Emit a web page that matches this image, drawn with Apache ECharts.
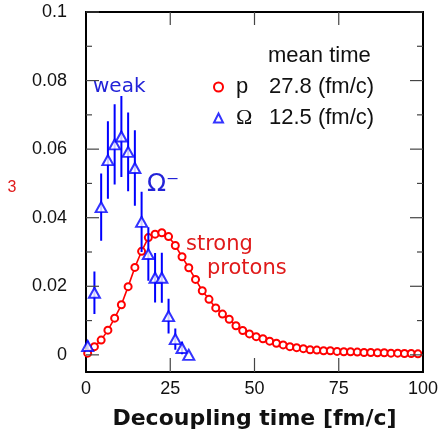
<!DOCTYPE html>
<html>
<head>
<meta charset="utf-8">
<script src="https://cdn.jsdelivr.net/npm/echarts@6/dist/echarts.min.js"></script>
<style>html,body{margin:0;padding:0;background:#fff;}#c{width:439px;height:434px;}</style>
</head>
<body>
<div id="c"></div>
<script>
// ---- data ----
const protonTimes = [0.5, 2.5, 4.5, 6.5, 8.5, 10.5, 12.5, 14.5, 16.5, 18.5,
  20.5, 22.5, 24.5, 26.5, 28.5, 30.5, 32.5, 34.5, 36.5, 38.5,
  40.5, 42.5, 44.5, 46.5, 48.5, 50.5, 52.5, 54.5, 56.5, 58.5,
  60.5, 62.5, 64.5, 66.5, 68.5, 70.5, 72.5, 74.5, 76.5, 78.5,
  80.5, 82.5, 84.5, 86.5, 88.5, 90.5, 92.5, 94.5, 96.5, 98.5];
const protonValues = [0.0005, 0.0024, 0.0043, 0.0072, 0.0107, 0.0146, 0.0199, 0.0255, 0.0302, 0.0342,
  0.0352, 0.0356, 0.0345, 0.0319, 0.0286, 0.0254, 0.0220, 0.0187, 0.0162, 0.0137,
  0.0119, 0.0104, 0.0085, 0.0071, 0.0061, 0.0053, 0.0047, 0.0040, 0.0034, 0.0029,
  0.0024, 0.0021, 0.0018, 0.0015, 0.0014, 0.0012, 0.0012, 0.0010, 0.0009, 0.0009,
  0.0008, 0.0007, 0.0007, 0.0006, 0.0006, 0.0005, 0.0005, 0.0004, 0.0004, 0.0003];
const omegaTimes = [0.5, 2.5, 4.5, 6.5, 8.5, 10.5, 12.5, 14.5, 16.5, 18.5, 20.5, 22.5, 24.5, 26.5, 28.5, 30.5];
const omegaValues = [0.0026, 0.0181, 0.0431, 0.0568, 0.0614, 0.0637, 0.0592, 0.0545, 0.0388, 0.0294, 0.0225, 0.0225, 0.0113, 0.0046, 0.0020, 0.0000];
const omegaErrors = [0.0015, 0.0062, 0.0098, 0.0113, 0.0117, 0.0118, 0.0115, 0.0110, 0.0088, 0.0078, 0.0072, 0.0073, 0.0051, 0.0031, 0.0018, 0.0000];
const legendNames = ['p', 'Ω'];
const legendMeanTimes = ['27.8 (fm/c)', '12.5 (fm/c)'];
const xTickValues = [25, 50, 75];
const yTickValues = [0, 0.02, 0.04, 0.06, 0.08, 0.1];
const yTickLabels = ['0', '0.02', '0.04', '0.06', '0.08', '0.1'];
const yMinorTickValues = [0.01, 0.03, 0.05, 0.07, 0.09];

// ---- chart ----
const RED = '#ff0000', BLUE = '#0000ff';
const X_MIN = 0, X_MAX = 100, Y_MIN = -0.005, Y_MAX = 0.1;
const TICK_COLOR = '#444', TICK_W = 1.2;
const chart = echarts.init(document.getElementById('c'), null, {renderer: 'canvas'});
function box() { return {show: true, onZero: false, lineStyle: {color: '#000', width: 2}}; }

const protonData = protonTimes.map((t, i) => [t, protonValues[i]]);
const omegaData = omegaTimes.map((t, i) => [t, omegaValues[i]]);
// error bars as broken line segments (low -> high, then a gap)
const omegaErrData = [];
omegaTimes.forEach((t, i) => {
  omegaErrData.push([t, omegaValues[i] - omegaErrors[i]], [t, omegaValues[i] + omegaErrors[i]], [t, '-']);
});

const textGraphics = [
  {type: 'text', left: 268, top: 45, style: {text: 'mean time', font: '22px "Liberation Sans"', fill: '#111'}},
  {type: 'text', x: 93, y: 87, style: {text: 'weak', font: '20px "DejaVu Sans"', fill: '#2323d8', verticalAlign: 'middle'}},
  {type: 'text', x: 147, y: 184, style: {text: 'Ω⁻', font: '25px "DejaVu Sans"', fill: '#2323d8', verticalAlign: 'middle'}},
  {type: 'text', x: 186, y: 245, style: {text: 'strong', font: '21px "DejaVu Sans"', fill: '#e01a1a', verticalAlign: 'middle'}},
  {type: 'text', x: 207, y: 269, style: {text: 'protons', font: '21px "DejaVu Sans"', fill: '#e01a1a', verticalAlign: 'middle'}},
  {type: 'text', x: 12, y: 188, style: {text: '3', font: '16px "Liberation Sans"', fill: '#e01a1a', align: 'center', verticalAlign: 'middle'}}
];

const option = {
  backgroundColor: '#fff',
  animation: false,
  grid: {left: 86, right: 16, top: 12, height: 360, outerBoundsMode: 'none'},
  xAxis: {
    type: 'value', position: 'bottom', min: X_MIN, max: X_MAX, interval: 25,
    axisLine: box(), splitLine: {show: false},
    axisTick: {show: false},
    axisLabel: {show: true, margin: 8, fontFamily: 'Liberation Sans', fontSize: 18, color: '#111'},
    name: 'Decoupling time [fm/c]', nameLocation: 'middle', nameGap: 36,
    nameTextStyle: {fontFamily: 'DejaVu Sans', fontWeight: 'bold', fontSize: 22, color: '#111'}
  },
  yAxis: {
    type: 'value', position: 'left', min: Y_MIN, max: Y_MAX,
    axisLine: box(), splitLine: {show: false}, axisTick: {show: false},
    axisLabel: {
      show: true, customValues: yTickValues, margin: 19,
      fontFamily: 'Liberation Sans', fontSize: 18, color: '#111',
      formatter: function (v) {
        for (let i = 0; i < yTickValues.length; i++) if (Math.abs(v - yTickValues[i]) < 1e-9) return yTickLabels[i];
        return '';
      }
    }
  },
  legend: {
    orient: 'vertical', left: 213, top: 76, itemGap: 9, padding: 0,
    itemWidth: 9, itemHeight: 9, selectedMode: false,
    data: [
      {name: legendNames[0], icon: 'circle', itemStyle: {color: '#fff', borderColor: RED, borderWidth: 2}},
      {name: legendNames[1], icon: 'triangle', itemStyle: {color: '#fff', borderColor: BLUE, borderWidth: 2}}
    ],
    formatter: function (name) {
      const i = legendNames.indexOf(name);
      return '{s' + i + '|' + name + '}{v|' + legendMeanTimes[i] + '}';
    },
    textStyle: {
      color: '#111',
      rich: {
        s0: {fontFamily: 'Liberation Sans', fontSize: 22, width: 33, padding: [0, 0, 0, 8], color: '#111'},
        s1: {fontFamily: 'Liberation Serif', fontSize: 22, width: 33, padding: [0, 0, 0, 8], color: '#111'},
        v: {fontFamily: 'Liberation Sans', fontSize: 22, color: '#111'}
      }
    }
  },
  graphic: textGraphics,
  series: [
    {
      name: 'p', type: 'line', data: protonData,
      symbol: 'emptyCircle', symbolSize: 7, showSymbol: true,
      lineStyle: {color: RED, width: 1.6}, itemStyle: {color: RED, borderColor: RED, borderWidth: 1.8},
      z: 3
    },
    {
      name: 'Ω error', type: 'line', data: omegaErrData,
      symbol: 'none', connectNulls: false, silent: true,
      lineStyle: {color: BLUE, width: 2}, itemStyle: {color: BLUE},
      z: 4
    },
    {
      name: 'Ω', type: 'scatter', data: omegaData,
      symbol: 'triangle', symbolSize: [11, 10],
      itemStyle: {color: '#fff', borderColor: BLUE, borderWidth: 2},
      z: 5
    }
  ]
};
chart.setOption(option);

// ---- frame (top/right borders and inward ticks), placed through the chart's own scales ----
function px(x, y) { return chart.convertToPixel({xAxisIndex: 0, yAxisIndex: 0}, [x, y]); }
function seg(x1, y1, x2, y2, color, w) {
  return {type: 'line', z: 100, silent: true,
    shape: {x1: x1, y1: y1, x2: x2, y2: y2}, style: {stroke: color, lineWidth: w}};
}
const frame = [];
const tl = px(X_MIN, Y_MAX), tr = px(X_MAX, Y_MAX), br = px(X_MAX, Y_MIN), bl = px(X_MIN, Y_MIN);
frame.push(seg(tl[0] - 1, tl[1], tr[0] + 1, tr[1], '#000', 2));
frame.push(seg(tr[0], tr[1], br[0], br[1] + 1, '#000', 2));
yTickValues.forEach(v => {
  const a = px(X_MIN, v), b = px(X_MAX, v);
  frame.push(seg(a[0], a[1], a[0] + 13, a[1], TICK_COLOR, TICK_W));
  frame.push(seg(b[0] - 13, b[1], b[0], b[1], TICK_COLOR, TICK_W));
});
yMinorTickValues.forEach(v => {
  const a = px(X_MIN, v), b = px(X_MAX, v);
  frame.push(seg(a[0], a[1], a[0] + 6, a[1], TICK_COLOR, TICK_W));
  frame.push(seg(b[0] - 6, b[1], b[0], b[1], TICK_COLOR, TICK_W));
});
xTickValues.forEach(v => {
  const t = px(v, Y_MAX), b = px(v, Y_MIN);
  frame.push(seg(t[0], t[1], t[0], t[1] + 13, TICK_COLOR, TICK_W));
  frame.push(seg(b[0], b[1] - 14, b[0], b[1], TICK_COLOR, TICK_W));
});
chart.setOption({graphic: textGraphics.concat(frame)});
</script>
</body>
</html>
